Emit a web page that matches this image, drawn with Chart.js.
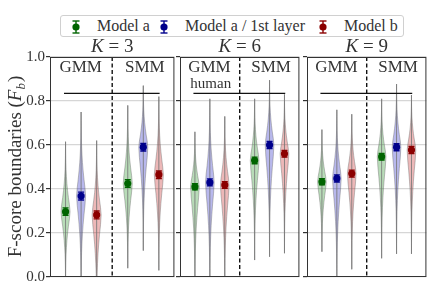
<!DOCTYPE html>
<html>
<head>
<meta charset="utf-8">
<script src="https://cdn.jsdelivr.net/npm/chart.js@4.4.0/dist/chart.umd.min.js"></script>
<style>
  body { margin: 0; background: #fff; width: 436px; height: 292px; overflow: hidden; position: relative; font-family: "Liberation Serif", serif; }
  canvas { position: absolute; top: 0; }
  #legend { position: absolute; left: 60px; top: 15px; width: 342px; height: 20px; border: 1px solid #d0d0d0; border-radius: 3px; font-size: 16px; color: #333; }
  #legend svg { position: absolute; top: 3px; }
  #legend span { position: absolute; top: 0; line-height: 20px; white-space: nowrap; }
</style>
</head>
<body>
<div id="legend"></div>
<canvas id="k3" width="178" height="292" style="left:0"></canvas>
<canvas id="k6" width="127" height="292" style="left:176px"></canvas>
<canvas id="k9" width="127" height="292" style="left:303px"></canvas>
<script>
// values
const panelK = [3, 6, 9];
const groupNames = ['GMM', 'SMM'];
const modelNames = ['Model a', 'Model a / 1st layer', 'Model b'];
const modelColors = ['#006400', '#00008b', '#8b0000'];
const violinFills = ['rgba(0,128,0,0.28)', 'rgba(0,0,190,0.28)', 'rgba(190,0,0,0.28)'];
const xPositions = [[1, 2, 3], [5, 6, 7]]; // GMM models, SMM models
const yTicks = [0, 0.2, 0.4, 0.6, 0.8, 1.0];
const humanScore = 0.835;

// means per panel: [GMM, SMM]
const meanA  = [[0.297, 0.425], [0.410, 0.530], [0.433, 0.547]];
const meanA1 = [[0.368, 0.590], [0.430, 0.600], [0.448, 0.590]];
const meanB  = [[0.282, 0.465], [0.418, 0.560], [0.470, 0.577]];
const errA   = [[0.017, 0.017], [0.014, 0.015], [0.014, 0.015]];
const errA1  = [[0.018, 0.017], [0.016, 0.016], [0.016, 0.016]];
const errB   = [[0.018, 0.017], [0.015, 0.015], [0.016, 0.016]];
// violin extent (low, high) per panel: [GMM, SMM]
const lowA   = [[-0.03, 0.04], [-0.06, 0.077], [0.115, 0.085]];
const highA  = [[0.615, 0.78], [0.66, 0.81], [0.67, 0.81]];
const lowA1  = [[-0.06, 0.12], [-0.06, 0.092], [-0.04, 0.105]];
const highA1 = [[0.75, 0.87], [0.81, 0.895], [0.76, 0.877]];
const lowB   = [[-0.16, 0.03], [-0.06, 0.108], [0.035, 0.105]];
const highB  = [[0.62, 0.82], [0.73, 0.83], [0.74, 0.827]];

const means = [meanA, meanA1, meanB];
const errs = [errA, errA1, errB];
const lows = [lowA, lowA1, lowB];
const highs = [highA, highA1, highB];

// relative violin half-width going away from the mean
const violinProfile = [1, 0.86, 0.64, 0.45, 0.3, 0.19, 0.11, 0.06, 0.03, 0.012, 0];
const violinHalfWidth = 0.29;
const serif = '"Liberation Serif", serif';

function violinPath(ctx, xs, ys, x, lo, mid, hi) {
  const n = violinProfile.length;
  const right = [], left = [];
  for (let i = n - 1; i >= 0; i--) {
    const v = mid - (mid - lo) * i / (n - 1);
    right.push([x + violinHalfWidth * violinProfile[i], v]);
  }
  for (let i = 1; i < n; i++) {
    const v = mid + (hi - mid) * i / (n - 1);
    right.push([x + violinHalfWidth * violinProfile[i], v]);
  }
  for (let i = right.length - 1; i >= 0; i--) left.push([2 * x - right[i][0], right[i][1]]);
  const pts = right.concat(left);
  ctx.beginPath();
  pts.forEach((p, i) => {
    const px = xs.getPixelForValue(p[0]), py = ys.getPixelForValue(p[1]);
    if (i === 0) ctx.moveTo(px, py); else ctx.lineTo(px, py);
  });
  ctx.closePath();
}

const panelPlugin = {
  id: 'panelPlugin',
  beforeDatasetsDraw(chart) {
    const p = chart.options.plugins.panelPlugin.panel;
    const { ctx, chartArea: a } = chart;
    const xs = chart.scales.x, ys = chart.scales.y;
    ctx.save();
    ctx.beginPath();
    ctx.rect(a.left, a.top, a.right - a.left, a.bottom - a.top);
    ctx.clip();
    for (let g = 0; g < 2; g++) {
      for (let m = 0; m < 3; m++) {
        const x = xPositions[g][m];
        const lo = lows[m][p][g], hi = highs[m][p][g], mid = means[m][p][g];
        violinPath(ctx, xs, ys, x, lo, mid, hi);
        ctx.fillStyle = violinFills[m];
        ctx.fill();
        ctx.strokeStyle = 'rgba(110,110,110,0.55)';
        ctx.lineWidth = 0.8;
        ctx.stroke();
        // min-max line
        ctx.beginPath();
        ctx.moveTo(xs.getPixelForValue(x), ys.getPixelForValue(lo));
        ctx.lineTo(xs.getPixelForValue(x), ys.getPixelForValue(hi));
        ctx.strokeStyle = 'rgba(120,120,120,0.85)';
        ctx.lineWidth = 1;
        ctx.stroke();
        // error bar
        const e = errs[m][p][g];
        const px = xs.getPixelForValue(x);
        const y1 = ys.getPixelForValue(mid - e), y2 = ys.getPixelForValue(mid + e);
        ctx.strokeStyle = modelColors[m];
        ctx.lineWidth = 1.4;
        ctx.beginPath();
        ctx.moveTo(px, y1); ctx.lineTo(px, y2);
        ctx.moveTo(px - 3, y1); ctx.lineTo(px + 3, y1);
        ctx.moveTo(px - 3, y2); ctx.lineTo(px + 3, y2);
        ctx.stroke();
      }
    }
    ctx.restore();
  },
  afterDraw(chart) {
    const p = chart.options.plugins.panelPlugin.panel;
    const { ctx, chartArea: a } = chart;
    const xs = chart.scales.x, ys = chart.scales.y;
    ctx.save();
    // separator between GMM and SMM
    ctx.strokeStyle = '#111';
    ctx.lineWidth = 1.4;
    ctx.setLineDash([4, 2.5]);
    ctx.beginPath();
    ctx.moveTo(xs.getPixelForValue(4), a.top);
    ctx.lineTo(xs.getPixelForValue(4), a.bottom);
    ctx.stroke();
    ctx.setLineDash([]);
    // human reference
    ctx.lineWidth = 1.2;
    ctx.beginPath();
    const hy = ys.getPixelForValue(humanScore);
    ctx.moveTo(xs.getPixelForValue(0.9), hy);
    ctx.lineTo(xs.getPixelForValue(7.05), hy);
    ctx.stroke();
    // frame
    ctx.strokeStyle = '#333';
    ctx.lineWidth = 1;
    ctx.strokeRect(a.left + 0.5, a.top + 0.5, a.right - a.left - 1, a.bottom - a.top - 1);
    // group labels
    ctx.fillStyle = '#333';
    ctx.font = '17px ' + serif;
    ctx.textAlign = 'center';
    ctx.textBaseline = 'middle';
    ctx.fillText(groupNames[0], xs.getPixelForValue(1.97), ys.getPixelForValue(0.95));
    ctx.fillText(groupNames[1], xs.getPixelForValue(6.1), ys.getPixelForValue(0.95));
    if (p === 1) {
      ctx.font = '15px ' + serif;
      ctx.fillText('human', xs.getPixelForValue(2.06), ys.getPixelForValue(0.875));
    }
    // panel title  K = n
    const cx = (a.left + a.right) / 2;
    ctx.font = 'italic 19px ' + serif;
    const wK = ctx.measureText('K').width;
    ctx.font = '19px ' + serif;
    const rest = ' = ' + panelK[p];
    const wR = ctx.measureText(rest).width;
    const x0 = cx - (wK + wR) / 2;
    ctx.textAlign = 'left';
    ctx.textBaseline = 'alphabetic';
    ctx.font = 'italic 19px ' + serif;
    ctx.fillText('K', x0, 52);
    ctx.font = '19px ' + serif;
    ctx.fillText(rest, x0 + wK, 52);
    // y axis title on first panel
    if (p === 0) {
      ctx.translate(21, (a.top + a.bottom) / 2);
      ctx.rotate(-Math.PI / 2);
      const s1 = 'F-score boundaries (';
      ctx.font = '19px ' + serif;
      const w1 = ctx.measureText(s1).width;
      ctx.font = 'italic 19px ' + serif;
      const w2 = ctx.measureText('F').width;
      ctx.font = 'italic 13px ' + serif;
      const w3 = ctx.measureText('b').width;
      ctx.font = '19px ' + serif;
      const w4 = ctx.measureText(')').width;
      let t = -(w1 + w2 + w3 + w4) / 2;
      ctx.fillText(s1, t, 0); t += w1;
      ctx.font = 'italic 19px ' + serif;
      ctx.fillText('F', t, 0); t += w2;
      ctx.font = 'italic 13px ' + serif;
      ctx.fillText('b', t, 4); t += w3 + 1;
      ctx.font = '19px ' + serif;
      ctx.fillText(')', t, 0);
    }
    ctx.restore();
  }
};

function makePanel(id, p, axisWidth, showLabels, padRight) {
  const datasets = modelNames.map((name, m) => ({
    label: name,
    data: [0, 1].map(g => ({ x: xPositions[g][m], y: means[m][p][g] })),
    backgroundColor: modelColors[m],
    borderColor: modelColors[m],
    pointRadius: 3.6,
    pointHoverRadius: 3.6,
    borderWidth: 0,
    showLine: false
  }));
  return new Chart(document.getElementById(id), {
    type: 'scatter',
    data: { datasets },
    options: {
      responsive: false,
      animation: false,
      events: [],
      layout: { padding: { top: 57, bottom: 15, left: 0, right: padRight } },
      plugins: {
        legend: { display: false },
        title: { display: false },
        tooltip: { enabled: false },
        panelPlugin: { panel: p }
      },
      scales: {
        x: { type: 'linear', min: 0, max: 8, display: false },
        y: {
          min: 0, max: 1,
          afterBuildTicks: s => { s.ticks = yTicks.map(v => ({ value: v })); },
          afterFit: s => { s.width = axisWidth; },
          ticks: {
            display: showLabels,
            padding: 1,
            color: '#333',
            font: { family: serif, size: 15 },
            callback: v => v.toFixed(1)
          },
          grid: { color: '#d6d6d6', lineWidth: 1.2, tickLength: 4, tickColor: '#333', drawTicks: true },
          border: { display: false }
        }
      }
    },
    plugins: [panelPlugin]
  });
}

makePanel('k3', 0, 50, true, 2);
makePanel('k6', 1, 4, false, 1);
makePanel('k9', 2, 4, false, 1);

// legend
const legend = document.getElementById('legend');
const markerX = [8, 96, 255];
const textX = [36, 124, 283];
modelNames.forEach((name, m) => {
  const c = modelColors[m];
  legend.insertAdjacentHTML('beforeend',
    '<svg width="14" height="16" style="left:' + markerX[m] + 'px">' +
    '<line x1="7" y1="2" x2="7" y2="14" stroke="' + c + '" stroke-width="1.4"/>' +
    '<line x1="3.5" y1="2" x2="10.5" y2="2" stroke="' + c + '" stroke-width="1.4"/>' +
    '<line x1="3.5" y1="14" x2="10.5" y2="14" stroke="' + c + '" stroke-width="1.4"/>' +
    '<circle cx="7" cy="8" r="3.6" fill="' + c + '"/></svg>' +
    '<span style="left:' + textX[m] + 'px">' + name + '</span>');
});
</script>
</body>
</html>
